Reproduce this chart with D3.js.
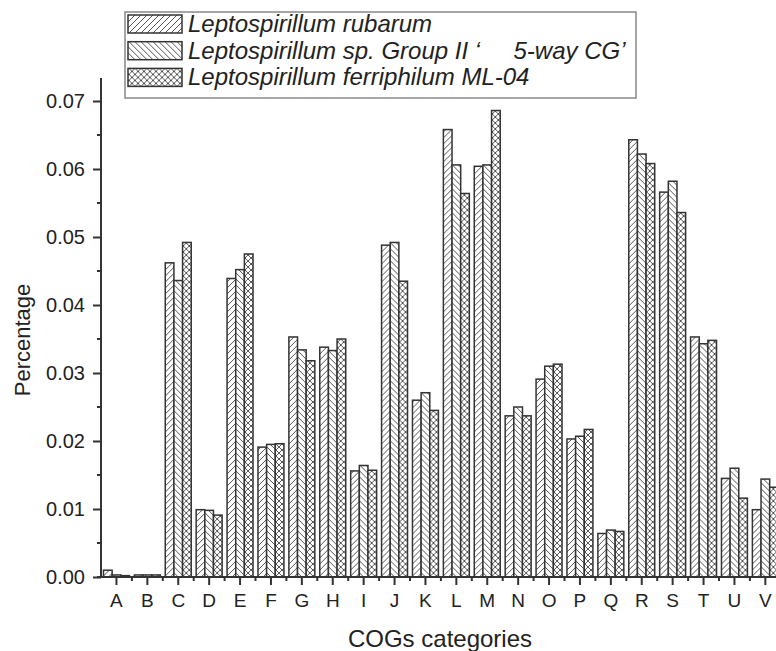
<!DOCTYPE html>
<html>
<head>
<meta charset="utf-8">
<script src="https://cdn.jsdelivr.net/npm/d3@7"></script>
<style>
  body { margin: 0; background: #fff; }
  svg { font-family: "Liberation Sans", Arial, sans-serif; }
</style>
</head>
<body>
<svg id="chart" width="776" height="651"></svg>
<script>
// COG category percentages for the three Leptospirillum genomes
var categories = ["A","B","C","D","E","F","G","H","I","J","K","L","M","N","O","P","Q","R","S","T","U","V"]
var seriesNames = [
  "Leptospirillum rubarum",
  "Leptospirillum sp. Group II \u2018\u00a0\u00a0\u00a0\u00a0\u00a05-way CG\u2019",
  "Leptospirillum ferriphilum ML-04"
]
var rubarum =     [0.0010,0.0003,0.0462,0.0099,0.0439,0.0191,0.0353,0.0338,0.0156,0.0488,0.0260,0.0658,0.0604,0.0237,0.0291,0.0203,0.0064,0.0643,0.0566,0.0353,0.0145,0.0099]
var groupII =     [0.0003,0.0003,0.0436,0.0098,0.0452,0.0195,0.0334,0.0333,0.0164,0.0492,0.0271,0.0606,0.0606,0.0250,0.0310,0.0207,0.0069,0.0622,0.0582,0.0343,0.0160,0.0144]
var ferriphilum = [0.0002,0.0003,0.0492,0.0091,0.0475,0.0196,0.0318,0.0350,0.0157,0.0435,0.0245,0.0564,0.0686,0.0237,0.0313,0.0217,0.0067,0.0608,0.0536,0.0348,0.0116,0.0132]
var yTicks = [0, 0.01, 0.02, 0.03, 0.04, 0.05, 0.06, 0.07]

var values = [rubarum, groupII, ferriphilum]
var svg = d3.select("#chart")
var ink = "#333"

// hatch patterns
var defs = svg.append("defs")
function hatch(id, paths) {
  var p = defs.append("pattern").attr("id", id)
    .attr("patternUnits", "userSpaceOnUse").attr("width", 6).attr("height", 6)
  p.append("rect").attr("width", 6).attr("height", 6).attr("fill", "#fff")
  paths.forEach(function(d) {
    p.append("path").attr("d", d).attr("stroke", "#555").attr("stroke-width", 1).attr("fill", "none")
  })
}
hatch("p0", ["M-1,1 L1,-1 M0,6 L6,0 M5,7 L7,5"])
hatch("p1", ["M-1,5 L1,7 M0,0 L6,6 M5,-1 L7,1"])
hatch("p2", ["M-1,1 L1,-1 M0,6 L6,0 M5,7 L7,5", "M-1,5 L1,7 M0,0 L6,6 M5,-1 L7,1"])

var left = 101, bottom = 577, axisTop = 78
var x0 = d3.scaleBand().domain(categories)
  .range([left, left + 22 * 30.9]).paddingInner(0.16).paddingOuter(0.08)
var x1 = d3.scaleBand().domain([0, 1, 2]).range([0, x0.bandwidth()])
var y = d3.scaleLinear().domain([0, 0.0728]).range([bottom, bottom - 0.0728 * 6800])

var rows = categories.map(function(c, i) {
  return { cat: c, vals: values.map(function(s) { return s[i] }) }
})

var groups = svg.append("g").selectAll("g").data(rows).enter().append("g")
  .attr("transform", function(d) { return "translate(" + x0(d.cat) + ",0)" })
groups.selectAll("rect").data(function(d) { return d.vals }).enter().append("rect")
  .attr("x", function(d, i) { return x1(i) })
  .attr("width", x1.bandwidth())
  .attr("y", function(d) { return y(d) })
  .attr("height", function(d) { return bottom - y(d) })
  .attr("fill", function(d, i) { return "url(#p" + i + ")" })
  .attr("stroke", ink).attr("stroke-width", 1.5)

// y axis
var yAxis = svg.append("g").attr("transform", "translate(" + left + ",0)")
  .call(d3.axisLeft(y).tickValues(yTicks).tickFormat(d3.format(".2f")).tickSize(8).tickPadding(8))
yAxis.select(".domain").attr("stroke", ink).attr("stroke-width", 2).attr("d", "M0," + bottom + "V" + axisTop)
yAxis.selectAll(".tick line").attr("stroke", ink).attr("stroke-width", 2)
yAxis.selectAll("text").attr("font-size", 20).attr("fill", "#222")
yAxis.selectAll(".minor").data(yTicks.slice(0, -1)).enter().append("line")
  .attr("x1", -4).attr("x2", 0)
  .attr("y1", function(d) { return y(d + 0.005) }).attr("y2", function(d) { return y(d + 0.005) })
  .attr("stroke", ink).attr("stroke-width", 2)

// x axis
var xAxis = svg.append("g").attr("transform", "translate(0," + bottom + ")")
  .call(d3.axisBottom(x0).tickSize(8).tickPadding(9))
xAxis.select(".domain").attr("stroke", ink).attr("stroke-width", 2).attr("d", "M" + (left - 4) + ",0H776")
xAxis.selectAll(".tick line").attr("stroke", ink).attr("stroke-width", 2)
xAxis.selectAll("text").attr("font-size", 19).attr("fill", "#222")
xAxis.selectAll(".minor").data(categories).enter().append("line")
  .attr("x1", function(d) { return x0(d) + x0.bandwidth() / 2 + x0.step() / 2 })
  .attr("x2", function(d) { return x0(d) + x0.bandwidth() / 2 + x0.step() / 2 })
  .attr("y1", 0).attr("y2", 4)
  .attr("stroke", ink).attr("stroke-width", 2)

// axis titles
svg.append("text").attr("x", 440).attr("y", 647).attr("text-anchor", "middle")
  .attr("font-size", 24).attr("fill", "#222").text("COGs categories")
svg.append("text").attr("transform", "translate(30,340) rotate(-90)").attr("text-anchor", "middle")
  .attr("font-size", 22).attr("fill", "#222").text("Percentage")

// legend
var legend = svg.append("g")
legend.append("rect").attr("x", 125).attr("y", 12).attr("width", 511).attr("height", 86)
  .attr("fill", "#fff").attr("stroke", "#888").attr("stroke-width", 1.5)
var item = legend.selectAll(".item").data(seriesNames).enter().append("g")
  .attr("transform", function(d, i) { return "translate(0," + (i * 26.7) + ")" })
item.append("rect").attr("x", 128).attr("y", 15).attr("width", 54).attr("height", 18)
  .attr("fill", function(d, i) { return "url(#p" + i + ")" })
  .attr("stroke", ink).attr("stroke-width", 1.5)
item.append("text").attr("x", 188).attr("y", 32)
  .attr("font-size", 24).attr("font-style", "italic").attr("fill", "#222")
  .text(function(d) { return d })
</script>
</body>
</html>
